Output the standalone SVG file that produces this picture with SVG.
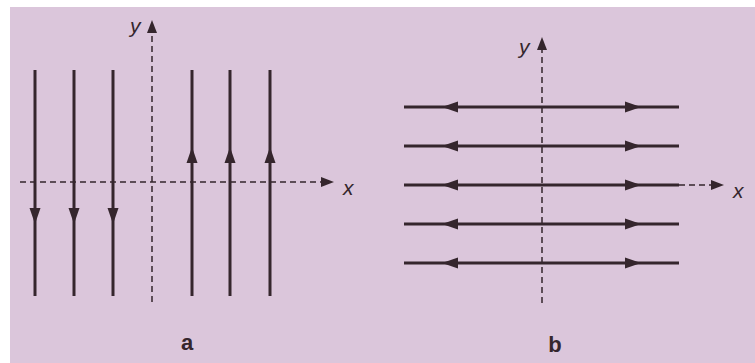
<svg xmlns="http://www.w3.org/2000/svg" width="755" height="363" viewBox="0 0 755 363">
<style>
.bg{fill:#dbc6db}
.fl{stroke:#35262d;stroke-width:3;fill:none}
.ax{stroke:#35262d;stroke-width:1.5;stroke-dasharray:6 4;fill:none}
.ah{fill:#35262d}
.lab{font-family:"Liberation Sans",Arial,sans-serif;font-style:italic;font-size:21px;fill:#35262d}
.cap{font-family:"Liberation Sans",Arial,sans-serif;font-weight:bold;font-size:22px;fill:#35262d;text-anchor:middle}
</style>
<defs>
<path id="hd" d="M0,0 L-16,-5.5 L-16,5.5 Z"/>
<path id="ax" d="M0,0 L-13,-5 L-13,5 Z"/>
</defs>
<rect width="755" height="363" fill="#ffffff"/>
<rect class="bg" x="10" y="7" width="745" height="356"/>
<g id="panel-a">
<g id="axes-a">
<line class="ax" x1="152" y1="302" x2="152" y2="30"/>
<use href="#ax" class="ah" transform="translate(152,20) rotate(-90)"/>
<line class="ax" x1="20" y1="182" x2="322" y2="182"/>
<use href="#ax" class="ah" transform="translate(334,182)"/>
<text class="lab" x="130" y="33">y</text>
<text class="lab" x="343" y="195">x</text>
</g>
<g id="lines-a">
<line class="fl" x1="35" y1="70" x2="35" y2="296"/>
<line class="fl" x1="74" y1="70" x2="74" y2="296"/>
<line class="fl" x1="113" y1="70" x2="113" y2="296"/>
<line class="fl" x1="192" y1="70" x2="192" y2="296"/>
<line class="fl" x1="230" y1="70" x2="230" y2="296"/>
<line class="fl" x1="270" y1="70" x2="270" y2="296"/>
<use href="#hd" class="ah" transform="translate(35,224) rotate(90)"/>
<use href="#hd" class="ah" transform="translate(74,224) rotate(90)"/>
<use href="#hd" class="ah" transform="translate(113,224) rotate(90)"/>
<use href="#hd" class="ah" transform="translate(192,147) rotate(-90)"/>
<use href="#hd" class="ah" transform="translate(230,147) rotate(-90)"/>
<use href="#hd" class="ah" transform="translate(270,147) rotate(-90)"/>
</g>
<text class="cap" x="187" y="350">a</text>
</g>
<g id="panel-b">
<g id="axes-b">
<line class="ax" x1="542" y1="303" x2="542" y2="47"/>
<use href="#ax" class="ah" transform="translate(542,37) rotate(-90)"/>
<line class="ax" x1="679" y1="185" x2="712" y2="185"/>
<use href="#ax" class="ah" transform="translate(724,185)"/>
<text class="lab" x="519" y="54">y</text>
<text class="lab" x="733" y="198">x</text>
</g>
<g id="lines-b">
<line class="fl" x1="404" y1="107" x2="679" y2="107"/>
<line class="fl" x1="404" y1="146" x2="679" y2="146"/>
<line class="fl" x1="404" y1="185" x2="679" y2="185"/>
<line class="fl" x1="404" y1="224" x2="679" y2="224"/>
<line class="fl" x1="404" y1="263" x2="679" y2="263"/>
<use href="#hd" class="ah" transform="translate(442,107) rotate(180)"/>
<use href="#hd" class="ah" transform="translate(442,146) rotate(180)"/>
<use href="#hd" class="ah" transform="translate(442,185) rotate(180)"/>
<use href="#hd" class="ah" transform="translate(442,224) rotate(180)"/>
<use href="#hd" class="ah" transform="translate(442,263) rotate(180)"/>
<use href="#hd" class="ah" transform="translate(641,107)"/>
<use href="#hd" class="ah" transform="translate(641,146)"/>
<use href="#hd" class="ah" transform="translate(641,185)"/>
<use href="#hd" class="ah" transform="translate(641,224)"/>
<use href="#hd" class="ah" transform="translate(641,263)"/>
</g>
<text class="cap" x="555" y="352">b</text>
</g>
</svg>
